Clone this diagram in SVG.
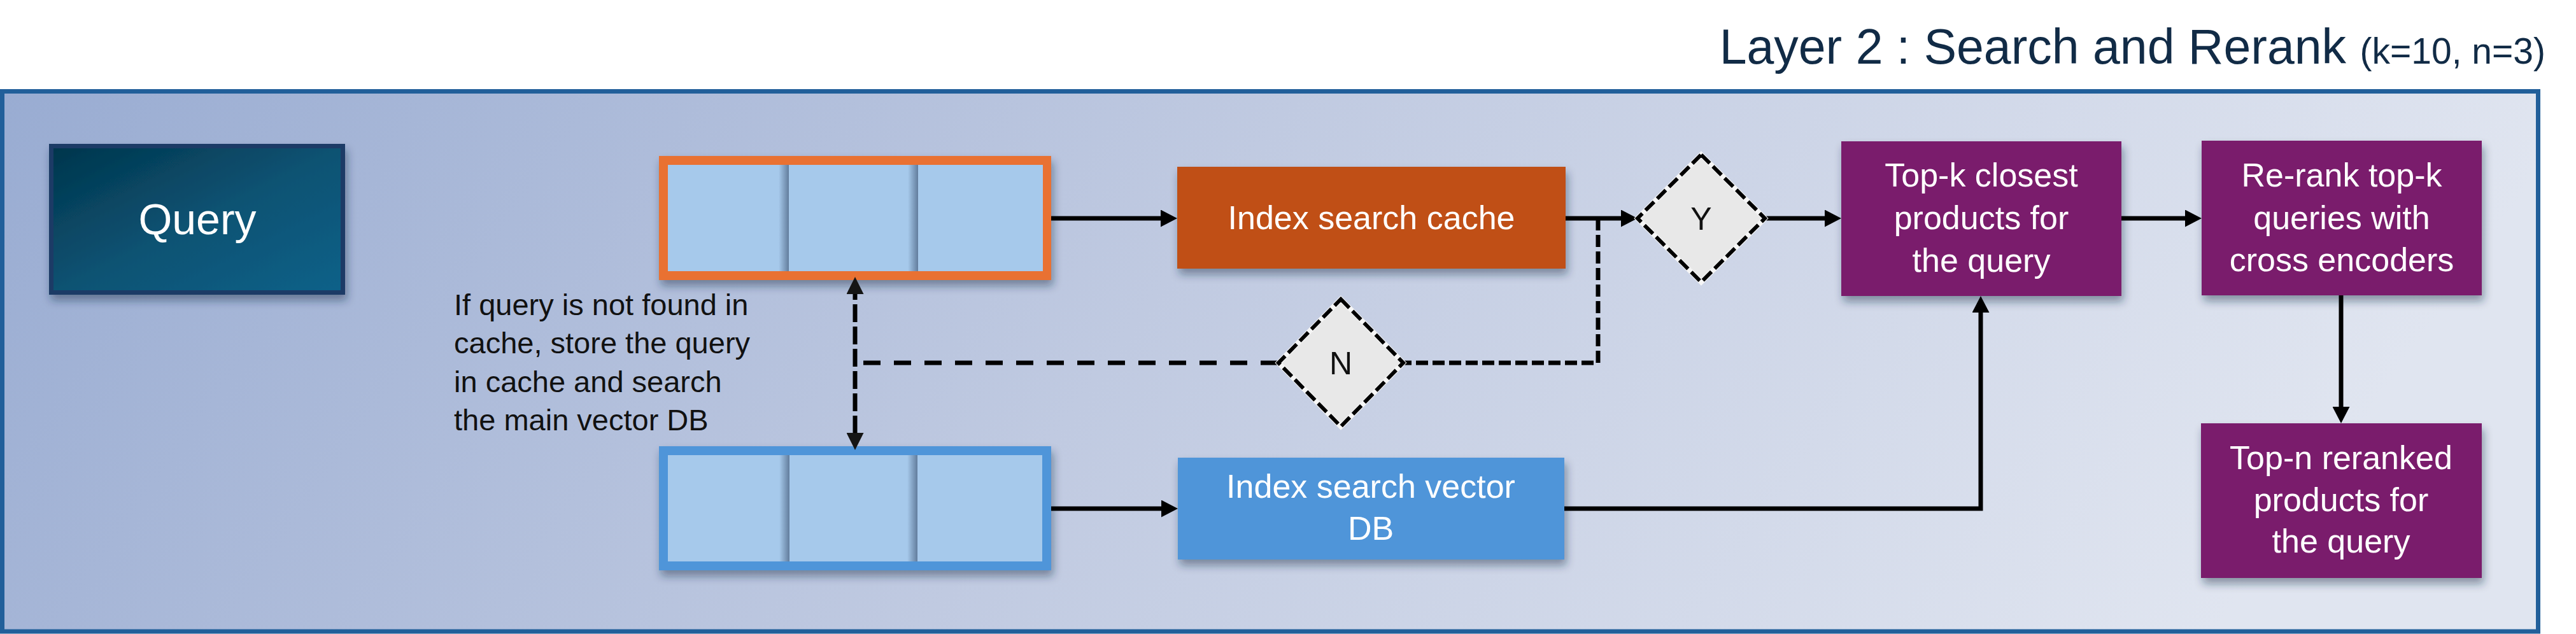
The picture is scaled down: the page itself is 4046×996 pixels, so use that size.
<svg xmlns="http://www.w3.org/2000/svg" width="4046" height="996" viewBox="0 0 4046 996">
  <defs>
    <linearGradient id="bg" x1="0" y1="0" x2="1" y2="0.15">
      <stop offset="0" stop-color="#99ACD2"/>
      <stop offset="0.5" stop-color="#C0CAE1"/>
      <stop offset="1" stop-color="#E0E5F0"/>
    </linearGradient>
    <linearGradient id="qfill" x1="0" y1="0" x2="1" y2="1">
      <stop offset="0" stop-color="#03354C"/>
      <stop offset="0.5" stop-color="#0A5272"/>
      <stop offset="1" stop-color="#0E6189"/>
    </linearGradient>
    <linearGradient id="cellshade" x1="0" y1="0" x2="1" y2="0">
      <stop offset="0" stop-color="#2A3E5C" stop-opacity="0"/>
      <stop offset="1" stop-color="#2A3E5C" stop-opacity="0.55"/>
    </linearGradient>
    <filter id="shadow" x="-10%" y="-10%" width="125%" height="135%">
      <feDropShadow dx="3" dy="9" stdDeviation="7" flood-color="#1E2A45" flood-opacity="0.45"/>
    </filter>
    <marker id="arrow" markerUnits="userSpaceOnUse" viewBox="0 0 26 27" markerWidth="26" markerHeight="27" refX="18" refY="13.5" orient="auto-start-reverse">
      <path d="M0,0 L26,13.5 L0,27 Z" fill="#000"/>
    </marker>
    <marker id="arrowd" markerUnits="userSpaceOnUse" viewBox="0 0 27 27" markerWidth="27" markerHeight="27" refX="19" refY="13.5" orient="auto-start-reverse">
      <path d="M0,0 L27,13.5 L0,27 Z" fill="#151515"/>
    </marker>
    <style>
      .lbl { font-family: "Liberation Sans", Arial, sans-serif; fill: #FFFFFF; text-anchor: middle; }
      .box { font-size: 52px; }
      .dark { font-family: "Liberation Sans", Arial, sans-serif; fill: #111111; }
      .conn { fill: none; stroke: #000; stroke-width: 7; }
      .cell { fill: #A6C9EB; }
      .shade { fill: url(#cellshade); }
      .dia-under { fill: #E8E8E8; stroke: #F6F6F6; stroke-width: 8; }
      .dia-dash { fill: none; stroke: #000; stroke-width: 6; stroke-dasharray: 19 7; }
    </style>
  </defs>

  <!-- Title -->
  <text x="3998" y="100" font-family="'Liberation Sans', Arial, sans-serif" font-size="77" fill="#112B46" text-anchor="end">Layer 2 : Search and Rerank <tspan font-size="57">(k=10, n=3)</tspan></text>

  <!-- Frame -->
  <rect id="frame" x="3.5" y="143.5" width="3983" height="848.5" fill="url(#bg)" stroke="#215F9A" stroke-width="7"/>

  <!-- Query -->
  <g id="query">
    <rect x="80.5" y="229.5" width="458" height="230" fill="url(#qfill)" stroke="#1B3B66" stroke-width="7" filter="url(#shadow)"/>
    <text class="lbl" x="310" y="368" font-size="68">Query</text>
  </g>

  <!-- Cache array (orange) -->
  <g id="cache-array">
    <rect x="1035" y="245" width="616" height="195" fill="#E97132" filter="url(#shadow)"/>
    <rect class="cell" x="1049" y="259" width="589" height="167"/>
    <rect class="shade" x="1223" y="259" width="16" height="167"/>
    <rect class="shade" x="1426" y="259" width="16" height="167"/>
  </g>

  <!-- Vector DB array (blue) -->
  <g id="vector-array">
    <rect x="1035" y="701" width="616" height="195" fill="#4F95D9" filter="url(#shadow)"/>
    <rect class="cell" x="1049" y="715" width="588" height="167"/>
    <rect class="shade" x="1224" y="715" width="16" height="167"/>
    <rect class="shade" x="1425" y="715" width="16" height="167"/>
  </g>

  <!-- Index search cache -->
  <g id="index-cache">
    <rect x="1849" y="262" width="610" height="160" fill="#C04F15" filter="url(#shadow)"/>
    <text class="lbl box" x="2154" y="360">Index search cache</text>
  </g>

  <!-- Index search vector DB -->
  <g id="index-vector">
    <rect x="1850" y="719" width="607" height="160" fill="#4F95D9" filter="url(#shadow)"/>
    <text class="lbl box" x="2153" y="782">Index search vector</text>
    <text class="lbl box" x="2153" y="848">DB</text>
  </g>

  <!-- Top-k closest -->
  <g id="topk">
    <rect x="2892" y="222" width="440" height="243" fill="#7A1F6C" filter="url(#shadow)"/>
    <text class="lbl box" x="3112" y="293">Top-k closest</text>
    <text class="lbl box" x="3112" y="360">products for</text>
    <text class="lbl box" x="3112" y="427">the query</text>
  </g>

  <!-- Re-rank -->
  <g id="rerank">
    <rect x="3458" y="221" width="440" height="243" fill="#7A1F6C" filter="url(#shadow)"/>
    <text class="lbl box" x="3678" y="293">Re-rank top-k</text>
    <text class="lbl box" x="3678" y="360">queries with</text>
    <text class="lbl box" x="3678" y="426">cross encoders</text>
  </g>

  <!-- Top-n -->
  <g id="topn">
    <rect x="3457" y="665" width="441" height="243" fill="#7A1F6C" filter="url(#shadow)"/>
    <text class="lbl box" x="3677" y="737">Top-n reranked</text>
    <text class="lbl box" x="3677" y="803">products for</text>
    <text class="lbl box" x="3677" y="868">the query</text>
  </g>

  <!-- Note text -->
  <g id="note">
    <text class="dark" x="713" y="495" font-size="47">If query is not found in</text>
    <text class="dark" x="713" y="555" font-size="47">cache, store the query</text>
    <text class="dark" x="713" y="616" font-size="47">in cache and search</text>
    <text class="dark" x="713" y="676" font-size="47">the main vector DB</text>
  </g>

  <!-- Connectors -->
  <g id="connectors">
    <path class="conn" d="M1651,343 H1841" marker-end="url(#arrow)"/>
    <path class="conn" d="M2459,343 H2564" marker-end="url(#arrow)"/>
    <path class="conn" d="M2773,343 H2884" marker-end="url(#arrow)"/>
    <path class="conn" d="M3332,343 H3450" marker-end="url(#arrow)"/>
    <path class="conn" d="M3677,464 V657" stroke-width="6" marker-end="url(#arrow)"/>
    <path class="conn" d="M1651,799 H1842" marker-end="url(#arrow)"/>
    <path class="conn" d="M2457,799 H3111 V473" stroke-linejoin="miter" marker-end="url(#arrow)"/>
    <path class="conn" d="M1343,443 V699" stroke="#151515" stroke-dasharray="28 7" marker-start="url(#arrowd)" marker-end="url(#arrowd)"/>
    <path class="conn" d="M2510,343 V570 H2204" stroke-dasharray="19 7"/>
    <path class="conn" d="M2007,570 H1347" stroke-dasharray="27 21"/>
  </g>

  <!-- Decision diamonds -->
  <g id="decision-y">
    <polygon class="dia-under" points="2672,243 2772,343 2672,443 2572,343"/>
    <polygon class="dia-dash" points="2672,243 2772,343 2672,443 2572,343"/>
    <text class="dark" x="2672" y="361" font-size="50" text-anchor="middle">Y</text>
  </g>
  <g id="decision-n">
    <polygon class="dia-under" points="2106,470 2204,570 2106,670 2008,570"/>
    <polygon class="dia-dash" points="2106,470 2204,570 2106,670 2008,570"/>
    <text class="dark" x="2106" y="588" font-size="50" text-anchor="middle">N</text>
  </g>
</svg>
